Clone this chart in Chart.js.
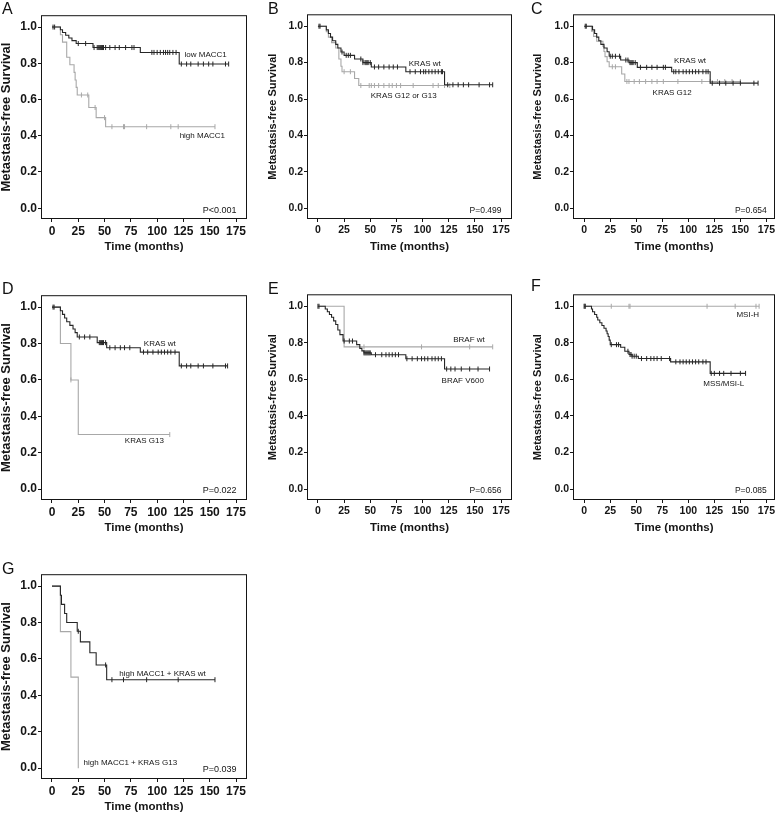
<!DOCTYPE html>
<html>
<head>
<meta charset="utf-8">
<title>Metastasis-free survival</title>
<script src="https://cdn.jsdelivr.net/npm/chart.js@4.4.1/dist/chart.umd.min.js"></script>
<style>
  html, body { margin: 0; padding: 0; background: #fff; }
  #fig { position: relative; width: 779px; height: 816px; overflow: hidden; font-family: "Liberation Sans", Arial, sans-serif; }
  #fig canvas { position: absolute; }
  .tag { position: absolute; font-size: 16px; line-height: 16px; color: #111; }
</style>
</head>
<body>
<div id="fig"></div>
<script>
// ==========================================
// DATA
// ==========================================
const xTicks = [0, 25, 50, 75, 100, 125, 150, 175];
const yTicks = [0, 0.2, 0.4, 0.6, 0.8, 1.0];

// A: low vs high MACC1
const aLowT = [0, 8, 10, 13, 16, 19, 23, 39, 84, 121];
const aLowS = [1, 0.985, 0.97, 0.955, 0.94, 0.925, 0.909, 0.887, 0.86, 0.796];
const aLowCens = [1, 2.5, 25, 32, 40, 43, 44, 45, 46, 47, 48, 49, 51, 55, 60, 64, 70, 76, 78, 95, 97, 100, 103, 106, 108, 110, 112, 115, 118, 123, 128, 132, 139, 144, 149, 153, 165, 168];
const aHighT = [0, 8, 10, 14, 17, 21, 22, 23, 24, 35, 42, 51];
const aHighS = [1, 0.958, 0.917, 0.833, 0.792, 0.75, 0.708, 0.667, 0.625, 0.556, 0.5, 0.45];
const aHighCens = [28, 34, 41, 50, 57, 68, 69, 90, 113, 120, 155];

// B: KRAS wt vs G12 or G13
const bWtT = [0, 8, 10, 12, 14, 17, 19, 22, 25, 35, 43, 51, 84, 121];
const bWtS = [1, 0.98, 0.96, 0.94, 0.92, 0.90, 0.88, 0.858, 0.84, 0.82, 0.80, 0.776, 0.75, 0.678];
const bWtCens = [1, 2, 23, 27, 29, 31, 41, 43, 45, 46, 47, 48, 50, 54, 58, 63, 68, 72, 76, 88, 93, 98, 101, 103, 106, 109, 112, 115, 118, 119, 124, 129, 134, 139, 144, 154, 164, 167];
const bMutT = [0, 8, 10, 13, 17, 20, 22, 23, 35, 39];
const bMutS = [1, 0.97, 0.94, 0.91, 0.88, 0.82, 0.78, 0.75, 0.713, 0.674];
const bMutCens = [25, 31, 41, 49, 51, 54, 58, 63, 68, 71, 75, 79, 91, 110, 115, 121, 126];

// C: KRAS wt vs G12
const cWtT = [0, 8, 10, 12, 14, 16, 19, 22, 24, 35, 43, 51, 84, 121];
const cWtS = [1, 0.98, 0.96, 0.94, 0.92, 0.90, 0.88, 0.86, 0.835, 0.814, 0.80, 0.774, 0.75, 0.687];
const cWtCens = [1, 2, 25, 27, 30, 34, 40, 42, 44, 45, 46, 47, 49, 54, 60, 65, 70, 76, 78, 86, 88, 91, 95, 98, 101, 104, 107, 110, 114, 117, 119, 123, 130, 136, 143, 150, 163, 167];
const cG12T = [0, 7, 9, 12, 18, 19, 20, 22, 24, 36, 39];
const cG12S = [1, 0.972, 0.944, 0.917, 0.889, 0.861, 0.833, 0.805, 0.777, 0.737, 0.696];
const cG12Cens = [27, 30, 41, 43, 48, 53, 59, 65, 70, 76, 90, 113, 121, 128, 135, 142, 150];

// D: KRAS wt vs G13
const dWtT = [0, 8, 10, 12, 14, 17, 20, 22, 24, 43, 52, 84, 121];
const dWtS = [1, 0.98, 0.96, 0.94, 0.92, 0.90, 0.88, 0.86, 0.836, 0.805, 0.777, 0.753, 0.677];
const dWtCens = [1, 2, 26, 31, 36, 45, 46, 47, 48, 49, 51, 55, 60, 65, 69, 74, 87, 91, 96, 101, 104, 107, 110, 113, 117, 123, 128, 132, 139, 144, 153, 165, 167];
const dG13T = [0, 8, 18, 25];
const dG13S = [1, 0.8, 0.6, 0.3];
const dG13Cens = [18, 112];

// E: BRAF wt vs V600
const eWtT = [0, 25];
const eWtS = [1, 0.778];
const eWtCens = [44, 99, 145, 167];
const eV600T = [0, 7, 9, 11, 13, 15, 17, 19, 21, 24, 37, 40, 42, 44, 51, 84, 121];
const eV600S = [1, 0.985, 0.97, 0.955, 0.94, 0.92, 0.90, 0.87, 0.845, 0.81, 0.79, 0.77, 0.756, 0.745, 0.735, 0.713, 0.657];
const eV600Cens = [0, 1, 25, 30, 33, 44, 45, 46, 47, 48, 49, 50, 55, 61, 65, 68, 71, 74, 77, 85, 90, 95, 99, 102, 105, 109, 112, 115, 118, 123, 127, 131, 137, 145, 153, 164];

// F: MSI-H vs MSS/MSI-L
const fHighT = [0];
const fHighS = [1];
const fHighCens = [0, 1, 26, 43, 44, 118, 145, 165, 168];
const fLowT = [0, 7, 8, 10, 12, 13, 15, 17, 19, 21, 22, 23, 24, 25, 35, 39, 43, 46, 52, 83, 121];
const fLowS = [1, 0.985, 0.97, 0.955, 0.94, 0.925, 0.91, 0.895, 0.88, 0.865, 0.85, 0.835, 0.815, 0.79, 0.776, 0.754, 0.736, 0.727, 0.714, 0.696, 0.633];
const fLowCens = [0, 1, 26, 31, 33, 42, 44, 45, 46, 48, 50, 55, 60, 64, 67, 70, 74, 82, 88, 92, 95, 98, 101, 104, 107, 110, 114, 117, 122, 125, 130, 134, 141, 150, 155];

// G: high MACC1 + KRAS wt vs high MACC1 + KRAS G13
const gWtT = [0, 8, 9, 12, 14, 24, 27, 36, 42, 52];
const gWtS = [1, 0.95, 0.90, 0.85, 0.80, 0.752, 0.694, 0.634, 0.567, 0.486];
const gWtCens = [25, 51, 57, 68, 90, 120, 155];
const gG13T = [0, 8, 18, 25];
const gG13S = [1, 0.75, 0.5, 0];
const gG13Cens = [];

// ==========================================
// STYLE / LAYOUT
// ==========================================
const DARK = '#262626';
const GREY = '#a8a8a8';
const INK = '#151515';
const FAMILY = '"Liberation Sans", Arial, Helvetica, sans-serif';

// canvas box + chart-area geometry for each panel
const panels = [
  { tag: 'A', tagX: 2, tagY: 1, left: 0, top: 8, w: 251, yW: 42, padR: 4, chartH: 204, xMin: -9.5, xMax: 184.5, big: true,
    series: [{ t: aLowT, s: aLowS, c: aLowCens, color: DARK }, { t: aHighT, s: aHighS, c: aHighCens, color: GREY }],
    notes: [{ text: 'low MACC1', x: 126, y: 0.847 }, { text: 'high MACC1', x: 121.4, y: 0.40 }], p: 'P<0.001', pY: -0.015 },
  { tag: 'B', tagX: 268, tagY: 1, left: 267, top: 8, w: 249, yW: 41, padR: 4, chartH: 204, xMin: -9.5, xMax: 184.5,
    series: [{ t: bWtT, s: bWtS, c: bWtCens, color: DARK }, { t: bMutT, s: bMutS, c: bMutCens, color: GREY }],
    notes: [{ text: 'KRAS wt', x: 86.8, y: 0.796 }, { text: 'KRAS G12 or G13', x: 50.5, y: 0.618 }], p: 'P=0.499', pY: -0.015 },
  { tag: 'C', tagX: 531, tagY: 1, left: 532, top: 8, w: 247, yW: 42, padR: 3, chartH: 204, xMin: -9.8, xMax: 182.3,
    series: [{ t: cWtT, s: cWtS, c: cWtCens, color: DARK }, { t: cG12T, s: cG12S, c: cG12Cens, color: GREY }],
    notes: [{ text: 'KRAS wt', x: 86.3, y: 0.81 }, { text: 'KRAS G12', x: 65.7, y: 0.633 }], p: 'P=0.654', pY: -0.015 },
  { tag: 'D', tagX: 2, tagY: 281, left: 0, top: 288, w: 251, yW: 42, padR: 4, chartH: 205, xMin: -9.5, xMax: 184.5, big: true,
    series: [{ t: dWtT, s: dWtS, c: dWtCens, color: DARK }, { t: dG13T, s: dG13S, c: dG13Cens, color: GREY }],
    notes: [{ text: 'KRAS wt', x: 87.3, y: 0.80 }, { text: 'KRAS G13', x: 69.3, y: 0.265 }], p: 'P=0.022', pY: -0.01 },
  { tag: 'E', tagX: 268, tagY: 281, left: 267, top: 288, w: 249, yW: 41, padR: 4, chartH: 205, xMin: -9.5, xMax: 184.5,
    series: [{ t: eV600T, s: eV600S, c: eV600Cens, color: DARK }, { t: eWtT, s: eWtS, c: eWtCens, color: GREY }],
    notes: [{ text: 'BRAF wt', x: 129.3, y: 0.816 }, { text: 'BRAF V600', x: 118.2, y: 0.594 }], p: 'P=0.656', pY: -0.01 },
  { tag: 'F', tagX: 531, tagY: 278, left: 532, top: 288, w: 247, yW: 42, padR: 3, chartH: 205, xMin: -9.8, xMax: 182.3,
    series: [{ t: fLowT, s: fLowS, c: fLowCens, color: DARK }, { t: fHighT, s: fHighS, c: fHighCens, color: GREY }],
    notes: [{ text: 'MSI-H', x: 146.2, y: 0.953 }, { text: 'MSS/MSI-L', x: 114.4, y: 0.574 }], p: 'P=0.085', pY: -0.01 },
  { tag: 'G', tagX: 2, tagY: 561, left: 0, top: 567, w: 251, yW: 42, padR: 4, chartH: 205, xMin: -9.5, xMax: 184.5, big: true,
    series: [{ t: gWtT, s: gWtS, c: gWtCens, color: DARK }, { t: gG13T, s: gG13S, c: gG13Cens, color: GREY }],
    notes: [{ text: 'high MACC1 + KRAS wt', x: 64, y: 0.516 }, { text: 'high MACC1 + KRAS G13', x: 30, y: 0.03 }], p: 'P=0.039', pY: -0.005 }
];

const PAD_TOP = 6, X_AXIS_H = 36, PAD_BOTTOM = 2;

// value of the step function at time t
function stepAt(ts, ss, t) {
    let v = ss[0];
    for (let i = 0; i < ts.length; i++) {
        if (ts[i] <= t) v = ss[i];
    }
    return v;
}

function kmDatasets(ser) {
    const lastT = ser.t[ser.t.length - 1];
    const end = Math.max(lastT, ...ser.c);
    const pts = ser.t.map((t, i) => ({ x: t, y: ser.s[i] }));
    if (end > lastT) pts.push({ x: end, y: ser.s[ser.s.length - 1] });
    return [
        { data: pts, borderColor: ser.color, borderWidth: 1.1, stepped: 'before', pointRadius: 0, fill: false },
        { data: ser.c.map(t => ({ x: t, y: stepAt(ser.t, ser.s, t) })), showLine: false,
          pointStyle: 'line', rotation: 90, pointRadius: 2.5, borderColor: ser.color, borderWidth: 1 }
    ];
}

// plot frame
const boxPlugin = {
    id: 'box',
    afterDraw(chart) {
        const { ctx, chartArea: a } = chart;
        ctx.save();
        ctx.strokeStyle = INK;
        ctx.lineWidth = 1;
        ctx.strokeRect(a.left - 0.5, a.top - 0.5, a.right - a.left + 1, a.bottom - a.top + 1);
        ctx.restore();
    }
};

// curve labels and p-value
const notesPlugin = {
    id: 'notes',
    afterDatasetsDraw(chart, args, opts) {
        const { ctx, scales: { x, y } } = chart;
        ctx.save();
        ctx.fillStyle = INK;
        ctx.textBaseline = 'middle';
        ctx.font = '8px ' + FAMILY;
        ctx.textAlign = 'left';
        opts.items.forEach(n => ctx.fillText(n.text, x.getPixelForValue(n.x), y.getPixelForValue(n.y)));
        ctx.font = opts.pSize + 'px ' + FAMILY;
        ctx.textAlign = 'right';
        ctx.fillText(opts.p, x.getPixelForValue(175.4), y.getPixelForValue(opts.pY));
        ctx.restore();
    }
};

const fig = document.getElementById('fig');

panels.forEach(function(p) {
    const h = PAD_TOP + p.chartH + X_AXIS_H + PAD_BOTTOM;
    const cv = document.createElement('canvas');
    cv.width = p.w;
    cv.height = h;
    cv.style.left = p.left + 'px';
    cv.style.top = p.top + 'px';
    cv.style.width = p.w + 'px';
    cv.style.height = h + 'px';
    fig.appendChild(cv);

    const tag = document.createElement('div');
    tag.className = 'tag';
    tag.textContent = p.tag;
    tag.style.left = p.tagX + 'px';
    tag.style.top = p.tagY + 'px';
    fig.appendChild(tag);

    const tickSize = p.big ? 12 : 10.5;
    const yTitleSize = p.big ? 13 : 11;
    let datasets = [];
    p.series.forEach(s => { datasets = datasets.concat(kmDatasets(s)); });

    new Chart(cv.getContext('2d'), {
        type: 'line',
        data: { datasets: datasets },
        options: {
            responsive: false,
            animation: false,
            events: [],
            layout: { padding: { left: 0, top: PAD_TOP, right: p.padR, bottom: PAD_BOTTOM } },
            plugins: {
                legend: { display: false },
                tooltip: { enabled: false },
                notes: { items: p.notes, p: p.p, pY: p.pY, pSize: p.big ? 9 : 8.5 }
            },
            scales: {
                x: {
                    type: 'linear', min: p.xMin, max: p.xMax,
                    afterBuildTicks: s => { s.ticks = xTicks.map(v => ({ value: v })); },
                    afterFit: s => { s.height = X_AXIS_H; },
                    grid: { drawOnChartArea: false, drawTicks: true, tickLength: 4, color: INK },
                    border: { display: false },
                    ticks: { font: { family: FAMILY, size: tickSize, weight: 'bold' }, color: INK, padding: 2, maxRotation: 0, autoSkip: false },
                    title: { display: true, text: 'Time (months)', color: INK, padding: 0,
                             font: { family: FAMILY, size: 11.5, weight: 'bold', lineHeight: 1.2 } }
                },
                y: {
                    type: 'linear', min: -0.054, max: 1.06,
                    afterBuildTicks: s => { s.ticks = yTicks.map(v => ({ value: v })); },
                    afterFit: s => { s.width = p.yW; },
                    grid: { drawOnChartArea: false, drawTicks: true, tickLength: 4, color: INK },
                    border: { display: false },
                    ticks: { font: { family: FAMILY, size: tickSize, weight: 'bold' }, color: INK, padding: 1,
                             callback: v => v.toFixed(1) },
                    title: { display: true, text: 'Metastasis-free Survival', color: INK, padding: 0,
                             font: { family: FAMILY, size: yTitleSize, weight: 'bold', lineHeight: 1 } }
                }
            }
        },
        plugins: [boxPlugin, notesPlugin]
    });
});
</script>
</body>
</html>
